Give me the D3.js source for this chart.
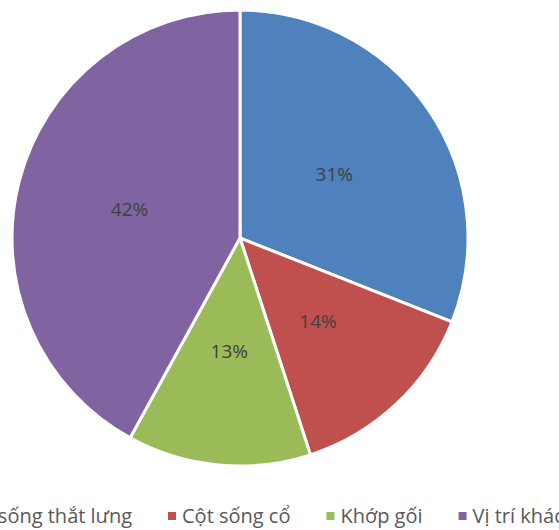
<!DOCTYPE html>
<html><head><meta charset="utf-8">
<script src="https://cdn.jsdelivr.net/npm/d3@7"></script>
<style>body{margin:0;background:#fff}svg{display:block}</style>
</head><body>
<script>
const categories = ["Cột sống thắt lưng", "Cột sống cổ", "Khớp gối", "Vị trí khác"];
const values = [31, 14, 13, 42];
const colors = ["#4F81BD", "#C0504D", "#9BBB59", "#8064A2"];

const W = 559, H = 530;
const svg = d3.select("body").append("svg").attr("width", W).attr("height", H);
const cx = 240, cy = 238, R = 228;

const pie = d3.pie().sort(null).value(d => d)(values);
const arc = d3.arc().innerRadius(0).outerRadius(R);
const g = svg.append("g").attr("transform", `translate(${cx},${cy})`);
g.selectAll("path").data(pie).join("path")
  .attr("d", arc).attr("fill", (d, i) => colors[i])
  .attr("stroke", "#fff").attr("stroke-width", 3).attr("stroke-linejoin", "miter");

const labelArc = d3.arc().innerRadius(R * 0.5).outerRadius(R * 0.5);
g.selectAll("text").data(pie).join("text")
  .attr("transform", d => `translate(${labelArc.centroid(d)})`)
  .attr("text-anchor", "middle").attr("dy", "0.35em")
  .attr("font-family", "'Open Sans', sans-serif").attr("font-size", 19)
  .attr("fill", "#404040")
  .text(d => d.value + "%");

// legend
const lg = svg.append("g").attr("transform", `translate(0,523)`);
const items = lg.selectAll("g").data(categories).join("g");
items.append("rect").attr("width", 8).attr("height", 8).attr("y", -11)
  .attr("fill", (d, i) => colors[i]);
items.append("text").attr("x", 14)
  .attr("font-family", "'Open Sans', sans-serif").attr("font-size", 20)
  .attr("fill", "#595959").text(d => d);
let x = 0; const gap = 36; const xs = [];
items.each(function () {
  xs.push(x);
  x += 14 + this.querySelector("text").getComputedTextLength() + gap;
});
const offset = 168 - xs[1];
items.attr("transform", (d, i) => `translate(${xs[i] + offset},0)`);
</script>
</body></html>
